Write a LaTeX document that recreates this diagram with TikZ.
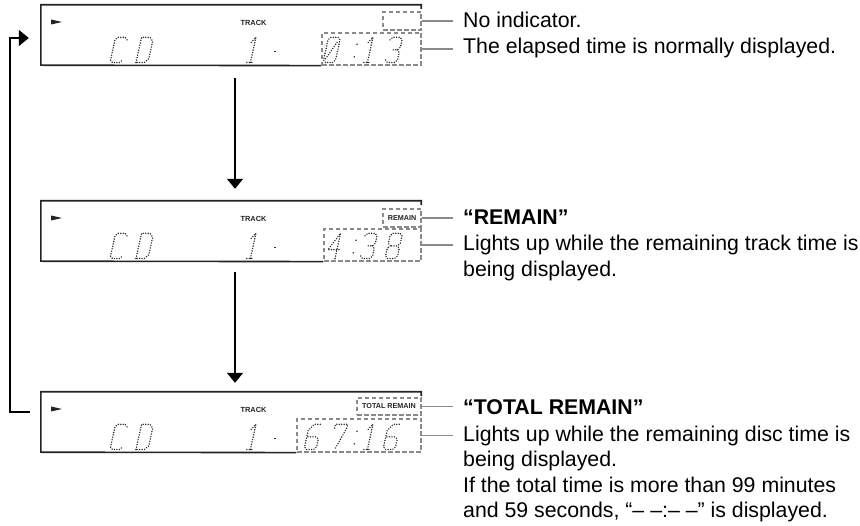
\documentclass[tikz,border=0pt]{standalone}
\usepackage{fontspec}
\setmainfont{Liberation Sans}
\usetikzlibrary{
    arrows.meta,
    positioning
}
\definecolor{ink}{RGB}{35,35,38}
\definecolor{guide}{RGB}{138,138,140}
\definecolor{segdot}{RGB}{40,40,42}
\tikzset{
    line cap=round,
    line join=round,
    display/.style={
        rectangle,
        inner sep=0pt,
        minimum width=380pt,
        minimum height=60pt
    },
    frame/.style={
        draw=ink,
        line width=1.6pt,
        line cap=butt
    },
    indbox/.style={
        rectangle,
        draw=guide,
        dash pattern=on 4.5pt off 2.5pt,
        line width=1.2pt,
        inner sep=0pt,
        font=\fontsize{7.2}{8}\selectfont\bfseries,
        text=ink
    },
    tag/.style={
        font=\fontsize{7.4}{8}\selectfont\bfseries,
        text=ink,
        inner sep=0pt
    },
    note/.style={
        font=\fontsize{21.3}{25.6}\selectfont,
        text=black,
        align=left,
        inner sep=0pt,
        anchor=base west
    },
    notehead/.style={
        note,
        font=\fontsize{21.3}{25.6}\selectfont\bfseries
    },
    leader/.style={
        draw=guide,
        line width=1.1pt,
        line cap=butt,
        shorten >=10pt
    },
    flow/.style={
        -{Triangle[length=10pt,width=16pt]},
        draw=black,
        line width=1.4pt,
        line cap=butt
    },
    lcd/.style={
        draw=segdot,
        line width=1.6pt,
        dash pattern=on 0pt off 2.5pt,
        line cap=round,
        x=12pt,
        y=12.6pt,
        xslant=0.22
    },
    pics/lcdC/.style={code={
        \draw[lcd] (1,1.8) -- (0.8,2) -- (0.2,2) -- (0,1.8) -- (0,0.2) -- (0.2,0) -- (0.8,0) -- (1,0.2);
    }},
    pics/lcdD/.style={code={
        \draw[lcd] (0,0) -- (0,2) -- (0.7,2) -- (1,1.7) -- (1,0.3) -- (0.7,0) -- cycle;
    }},
    pics/lcdone/.style={code={
        \draw[lcd] (0.15,1.6) -- (0.45,2) -- (0.45,0) (0.15,0) -- (0.75,0);
    }},
    pics/lcddash/.style={code={
        \draw[segdot, line width=1.3pt, x=12pt, y=12.6pt, xslant=0.22] (0.3,0.9) -- (0.5,0.9);
    }},
    pics/lcdcolon/.style={code={
        \fill[segdot, x=12pt, y=12.6pt, xslant=0.22] (0.5,0.45) circle (0.85pt) (0.5,1.45) circle (0.85pt);
    }},
    pics/lcdzero/.style={code={
        \draw[lcd] (0.2,0) -- (0,0.2) -- (0,1.8) -- (0.2,2) -- (0.8,2) -- (1,1.8) -- (1,0.2) -- (0.8,0) -- cycle
            (0.15,0.3) -- (0.85,1.7);
    }},
    pics/lcdthree/.style={code={
        \draw[lcd] (0,1.8) -- (0.2,2) -- (0.8,2) -- (1,1.8) -- (1,1.2) -- (0.8,1) -- (0.35,1)
            (0.8,1) -- (1,0.8) -- (1,0.2) -- (0.8,0) -- (0.2,0) -- (0,0.2);
    }},
    pics/lcdfour/.style={code={
        \draw[lcd] (0.75,0) -- (0.75,2) -- (0,0.7) -- (1,0.7);
    }},
    pics/lcdsix/.style={code={
        \draw[lcd] (0.9,2) -- (0.4,2) -- (0,1.5) -- (0,0.2) -- (0.2,0) -- (0.8,0) -- (1,0.2) -- (1,0.8) -- (0.8,1) -- (0,1);
    }},
    pics/lcdseven/.style={code={
        \draw[lcd] (0,1.7) -- (0,2) -- (1,2) -- (1,1.7) -- (0.4,0);
    }},
    pics/lcdeight/.style={code={
        \draw[lcd] (0.2,1) -- (0,1.2) -- (0,1.8) -- (0.2,2) -- (0.8,2) -- (1,1.8) -- (1,1.2) -- (0.8,1) -- cycle
            (0.2,1) -- (0,0.8) -- (0,0.2) -- (0.2,0) -- (0.8,0) -- (1,0.2) -- (1,0.8) -- (0.8,1);
    }}
}

\begin{document}
\begin{tikzpicture}[x=1pt, y=-1pt]
\useasboundingbox (0,0) rectangle (860,526);

% Display 1: elapsed time
\node[display] (disp1) at (231,35) {};
\node[indbox, minimum width=38pt, minimum height=18pt] (ind1) at (402,21) {};
\node[indbox, minimum width=99pt, minimum height=32pt] (time1) at (371.5,49) {};
\draw[frame] (time1.south west) -- (disp1.south west) -- (disp1.north west) -- (disp1.north east) -- ++(0,-4pt);
\fill[ink] (51,19.5) -- (62,22) -- (51,24.5) -- cycle;
\node[tag] (trk1) at (253.5,23) {TRACK};
\pic at (110,62.5) {lcdC};
\pic at (136,62.5) {lcdD};
\pic at (245,62.5) {lcdone};
\pic at (268,62.5) {lcddash};
\pic at (323,62.5) {lcdzero};
\pic at (347,62.5) {lcdcolon};
\pic at (362,62.5) {lcdone};
\pic at (385,62.5) {lcdthree};

% Display 2: remaining track time
\node[display] (disp2) at (231,231) {};
\node[indbox, minimum width=38pt, minimum height=18pt] (ind2) at (402,218) {REMAIN};
\node[indbox, minimum width=97pt, minimum height=32pt] (time2) at (372.5,245) {};
\draw[frame] (time2.south west) -- (disp2.south west) -- (disp2.north west) -- (disp2.north east) -- ++(0,-4pt);
\fill[ink] (51,215.5) -- (62,218) -- (51,220.5) -- cycle;
\node[tag] (trk2) at (253.5,219) {TRACK};
\pic at (110,258.5) {lcdC};
\pic at (136,258.5) {lcdD};
\pic at (245,258.5) {lcdone};
\pic at (268,258.5) {lcddash};
\pic at (326,258.5) {lcdfour};
\pic at (346,258.5) {lcdcolon};
\pic at (360,258.5) {lcdthree};
\pic at (385,258.5) {lcdeight};

% Display 3: remaining disc time
\node[display] (disp3) at (231,422) {};
\node[indbox, minimum width=64pt, minimum height=17pt] (ind3) at (389,406.5) {TOTAL REMAIN};
\node[indbox, minimum width=124pt, minimum height=33pt] (time3) at (359,435.5) {};
\draw[frame] (time3.south west) -- (disp3.south west) -- (disp3.north west) -- (disp3.north east) -- ++(0,-4pt);
\fill[ink] (51,406.5) -- (62,409) -- (51,411.5) -- cycle;
\node[tag] (trk3) at (253.5,410) {TRACK};
\pic at (110,449.5) {lcdC};
\pic at (136,449.5) {lcdD};
\pic at (245,449.5) {lcdone};
\pic at (268,449.5) {lcddash};
\pic at (304,449.5) {lcdsix};
\pic at (330,449.5) {lcdseven};
\pic at (347,449.5) {lcdcolon};
\pic at (362,449.5) {lcdone};
\pic at (383,449.5) {lcdsix};

% Descriptions (base = last line)
\node[note] (lab1a) at (463,28) {No indicator.};
\node[note] (lab1b) at (463,54) {The elapsed time is normally displayed.};
\node[notehead] (lab2a) at (463,225) {“REMAIN”};
\node[note] (lab2b) at (463,276.6) {Lights up while the remaining track time is\\being displayed.};
\node[notehead] (lab3a) at (463,415) {“TOTAL REMAIN”};
\node[note] (lab3b) at (463,517.8) {Lights up while the remaining disc time is\\being displayed.\\If the total time is more than 99 minutes\\and 59 seconds, “– –:– –” is displayed.};

\draw[leader] (ind1.east) -- (ind1.east -| lab1a.west);
\draw[leader] (time1.east) -- (time1.east -| lab1b.west);
\draw[leader] (ind2.east) -- (ind2.east -| lab2a.west);
\draw[leader] (time2.east) -- (time2.east -| lab2b.west);
\draw[leader] (ind3.east) -- (ind3.east -| lab3a.west);
\draw[leader] (time3.east) -- (time3.east -| lab3b.west);

% Mode sequence
\draw[flow, shorten <=13pt, shorten >=12pt] ([xshift=4pt]disp1.south) -- ([xshift=4pt]disp2.north);
\draw[flow, shorten <=11pt, shorten >=9pt] ([xshift=4pt]disp2.south) -- ([xshift=4pt]disp3.north);
\draw[flow] ([xshift=-11pt,yshift=10pt]disp3.west) -| ([xshift=-31pt,yshift=-3pt]disp1.west) -- ([xshift=-12pt,yshift=-3pt]disp1.west);
\end{tikzpicture}
\end{document}
